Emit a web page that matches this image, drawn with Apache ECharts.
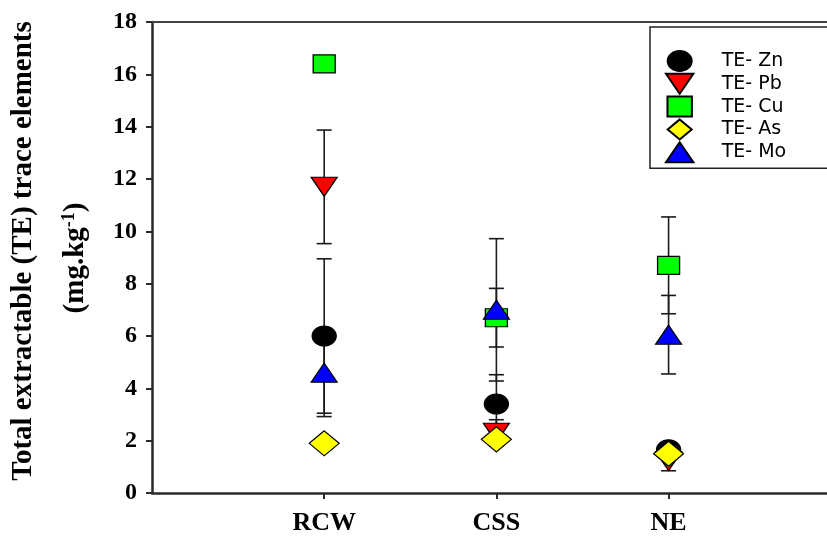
<!DOCTYPE html>
<html>
<head>
<meta charset="utf-8">
<script src="https://cdn.jsdelivr.net/npm/echarts@6/dist/echarts.min.js"></script>
<style>
html,body{margin:0;padding:0;background:#fff;}
#chart{width:827px;height:536px;}
</style>
</head>
<body>
<div id="chart"></div>
<script>
// ---- data ----
const categories = ['RCW', 'CSS', 'NE'];
const seriesNames = ['TE- Zn', 'TE- Pb', 'TE- Cu', 'TE- As', 'TE- Mo'];
const znMean = [6.0, 3.4, 1.65];
const znErr  = [2.95, 1.12, 0.1];
const pbMean = [11.7, 2.3, 1.22];
const pbErr  = [2.17, 0.5, 0.37];
const cuMean = [16.4, 6.7, 8.7];
const cuErr  = [0, 1.12, 1.85];
const asMean = [1.9, 2.05, 1.5];
const asErr  = [0.1, 0.1, 0.1];
const moMean = [4.6, 7.0, 6.05];
const moErr  = [1.68, 2.72, 1.5];
const yTickValues = [0, 2, 4, 6, 8, 10, 12, 14, 16, 18];

const means = [znMean, pbMean, cuMean, asMean, moMean];
const errs = [znErr, pbErr, cuErr, asErr, moErr];
const colors = ['#000000', '#ff0000', '#00ff00', '#ffff00', '#0000ff'];
const symbols = [
  'path://M60,0 C93,0 120,22.4 120,50 C120,77.6 93,100 60,100 C27,100 0,77.6 0,50 C0,22.4 27,0 60,0 Z',
  'path://M0,0 L26,0 L13,19 Z',
  'path://M0,0 L22,0 L22,18 L0,18 Z',
  'path://M15,0 L30,12.5 L15,25 L0,12.5 Z',
  'path://M13,0 L26,19 L0,19 Z'
];
const sizes = [[24, 20], [26, 19], [22, 18], [30, 25], [26, 19]];

const series = [];
seriesNames.forEach((name, k) => {
  const errData = [];
  categories.forEach((c, i) => {
    if (errs[k][i] > 0) errData.push([i + 1, means[k][i] - errs[k][i], means[k][i] + errs[k][i]]);
  });
  series.push({
    type: 'custom',
    name: name + ' error',
    xAxisIndex: 0, yAxisIndex: 0,
    data: errData,
    silent: true,
    renderItem: function (params, api) {
      const lo = api.coord([api.value(0), api.value(1)]);
      const hi = api.coord([api.value(0), api.value(2)]);
      const hw = 7.5;
      const st = { stroke: '#1a1a1a', lineWidth: 1.6 };
      return {
        type: 'group',
        children: [
          { type: 'line', shape: { x1: lo[0], y1: lo[1], x2: hi[0], y2: hi[1] }, style: st },
          { type: 'line', shape: { x1: lo[0] - hw, y1: lo[1], x2: lo[0] + hw, y2: lo[1] }, style: st },
          { type: 'line', shape: { x1: hi[0] - hw, y1: hi[1], x2: hi[0] + hw, y2: hi[1] }, style: st }
        ]
      };
    }
  });
  series.push({
    type: 'scatter',
    name: name,
    xAxisIndex: 0, yAxisIndex: 0,
    data: categories.map((c, i) => [i + 1, means[k][i]]),
    symbol: symbols[k],
    symbolSize: sizes[k],
    itemStyle: { color: colors[k], borderColor: '#000', borderWidth: 1.2, opacity: 1 },
    emphasis: { disabled: true }
  });
});

const chart = echarts.init(document.getElementById('chart'), null, { renderer: 'canvas' });
chart.setOption({
  backgroundColor: '#ffffff',
  animation: false,
  grid: { left: 152, top: 22, right: 0, bottom: 40, containLabel: false },
  xAxis: [{
    type: 'value', min: 0, max: 3.92, position: 'bottom',
    axisLine: { show: true, onZero: false, lineStyle: { color: '#2a2a2a', width: 2.5 } },
    axisTick: { show: true, customValues: [1, 2, 3], length: 6, lineStyle: { color: '#2a2a2a', width: 2 } },
    axisLabel: {
      customValues: [1, 2, 3],
      formatter: v => categories[Math.round(v) - 1] || '',
      margin: 17, color: '#000', fontFamily: 'Liberation Serif', fontWeight: 'bold', fontSize: 26
    },
    splitLine: { show: false }
  }, {
    type: 'value', min: 0, max: 3.92, position: 'top',
    axisLine: { show: true, onZero: false, lineStyle: { color: '#444', width: 2 } },
    axisTick: { show: false }, axisLabel: { show: false }, splitLine: { show: false }
  }],
  yAxis: {
    type: 'value', min: 0, max: 18, interval: 2,
    axisLine: { show: true, lineStyle: { color: '#2a2a2a', width: 2.5 } },
    axisTick: { show: true, length: 6, lineStyle: { color: '#2a2a2a', width: 2 } },
    axisLabel: {
      margin: 15, color: '#000', fontFamily: 'Liberation Serif', fontWeight: 'bold', fontSize: 24,
      formatter: v => (yTickValues.indexOf(v) >= 0 ? String(v) : '')
    },
    splitLine: { show: false }
  },
  legend: {
    data: seriesNames,
    orient: 'vertical',
    left: 650, top: 27,
    padding: [23, 80, 5, 15],
    itemWidth: 74, itemHeight: 20, itemGap: 0.8,
    borderColor: '#222', borderWidth: 1.5,
    textStyle: { color: '#000', fontFamily: 'DejaVu Sans', fontSize: 19 },
    selectedMode: false
  },
  graphic: [
    {
      type: 'text', x: 24, y: 251, rotation: Math.PI / 2,
      style: {
        text: 'Total extractable (TE) trace elements',
        fontFamily: 'Liberation Serif', fontWeight: 'bold', fontSize: 29,
        fill: '#000', align: 'center', verticalAlign: 'middle'
      }
    },
    {
      type: 'text', x: 76, y: 258, rotation: Math.PI / 2,
      style: {
        text: '{b|(mg.kg}{s|-1}{b|)}',
        align: 'center', verticalAlign: 'middle',
        rich: {
          b: { fontFamily: 'Liberation Serif', fontWeight: 'bold', fontSize: 29, fill: '#000', lineHeight: 32 },
          s: { fontFamily: 'Liberation Serif', fontWeight: 'bold', fontSize: 18, fill: '#000', verticalAlign: 'top', lineHeight: 32, padding: [0, 0, 10, 0] }
        }
      }
    }
  ],
  series: series
});
</script>
</body>
</html>
